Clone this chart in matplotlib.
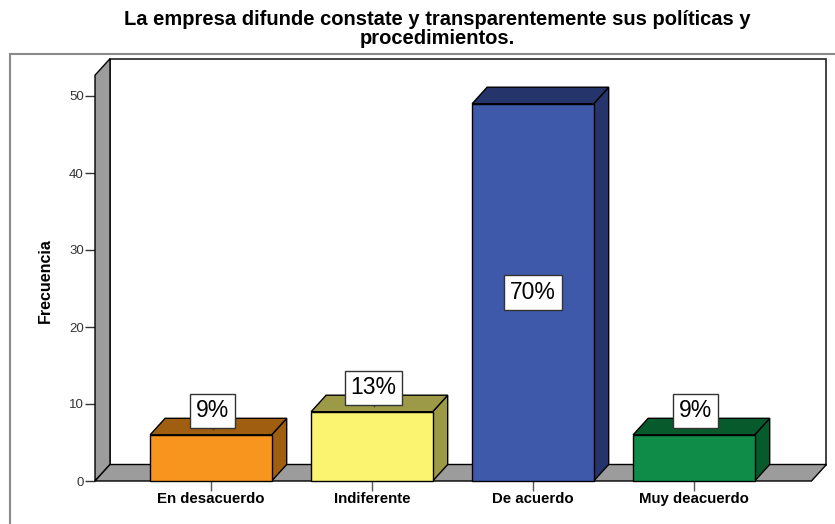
import matplotlib
matplotlib.use("Agg")
import matplotlib.pyplot as plt
from matplotlib.patches import Polygon, Rectangle

plt.rcParams['font.family'] = ['Liberation Sans', 'DejaVu Sans']

categorias = ['En desacuerdo', 'Indiferente', 'De acuerdo', 'Muy deacuerdo']
frecuencias = [6, 9, 49, 6]
colores_frente = ['#F7951F', '#FAF471', '#3E59A9', '#0F8C47']
colores_sombra = ['#A05F10', '#9C9A47', '#26346C', '#075A2B']
titulo = 'La empresa difunde constate y transparentemente sus políticas y\nprocedimientos.'

total = sum(frecuencias)
porcentajes = [round(v * 100 / total) for v in frecuencias]

W, H = 835, 524
fig = plt.figure(figsize=(W / 100, H / 100), dpi=100)

# zona del grafico en pixeles: eje frontal y plano de fondo
px_left, px_right, px_bottom, px_top = 95, 827, 481, 58
ax = fig.add_axes([px_left / W, 1 - px_bottom / H,
                   (px_right - px_left) / W, (px_bottom - px_top) / H])

px_cat = 161.0      # pixeles por categoria
px_unit = 7.7       # pixeles por unidad de frecuencia
x0 = -0.72
x1 = 3.73
dx = 15 / px_cat
dy = 16.5 / px_unit
ancho = 0.755
ytop = 52.7

ax.set_xlim(x0, x0 + (px_right - px_left) / px_cat)
ax.set_ylim(0, (px_bottom - px_top) / px_unit)

# plano de fondo, pared izquierda y piso
ax.add_patch(Polygon([(x0 + dx, dy), (x0 + dx, ytop + dy), (x1 + dx, ytop + dy), (x1 + dx, dy)],
                     closed=True, facecolor='white', edgecolor='#222222', lw=1.2, zorder=1,
                     clip_on=False))
ax.add_patch(Polygon([(x0, 0), (x0, ytop), (x0 + dx, ytop + dy), (x0 + dx, dy)],
                     closed=True, facecolor='#9C9C9C', edgecolor='black', lw=1.0, zorder=2,
                     clip_on=False))
ax.add_patch(Polygon([(x0, 0), (x0 + dx, dy), (x1 + dx, dy), (x1, 0)],
                     closed=True, facecolor='#9C9C9C', edgecolor='black', lw=1.0, zorder=2,
                     clip_on=False))

for i, v in enumerate(frecuencias):
    l, r = i - ancho / 2, i + ancho / 2
    lado = [(r, 0), (r + dx, dy), (r + dx, v + dy), (r, v)]
    tapa = [(l, v), (l + dx, v + dy), (r + dx, v + dy), (r, v)]
    ax.add_patch(Polygon(lado, closed=True, facecolor=colores_sombra[i],
                         edgecolor='black', lw=1.0, zorder=3, clip_on=False))
    ax.add_patch(Polygon(tapa, closed=True, facecolor=colores_sombra[i],
                         edgecolor='black', lw=1.0, zorder=3, clip_on=False))
    ax.add_patch(Rectangle((l, 0), ancho, v, facecolor=colores_frente[i],
                           edgecolor='black', lw=1.0, zorder=4, clip_on=False))

    etiqueta = f'{porcentajes[i]}%'
    caja = dict(boxstyle='square,pad=0.25', fc='white', ec='#333333', lw=1.0)
    if v > 20:
        ax.text(i, v / 2, etiqueta, ha='center', va='center', fontsize=16.5, zorder=6, bbox=caja)
    else:
        ax.plot([i + 0.01, i + 0.01], [v + dy / 2 - 0.3, v + 1], color='#333333', lw=1, zorder=5)
        ax.text(i + 0.01, v + 3.1, etiqueta, ha='center', va='center', fontsize=16.5, zorder=6,
                bbox=caja)

for s in ax.spines.values():
    s.set_visible(False)
ax.set_facecolor('none')

ax.set_yticks(range(0, 51, 10))
ax.set_xticks(range(len(categorias)))
ax.set_xticklabels(categorias, fontsize=10.8, fontweight='bold')
ax.tick_params(axis='y', direction='out', length=7, width=1, color='#333333',
               labelsize=9.5, labelcolor='#333333', pad=1)
ax.tick_params(axis='x', direction='out', length=7, width=1, color='#555555', pad=1)

ax.set_ylabel('Frecuencia', fontsize=11.5, fontweight='bold')
ax.yaxis.set_label_coords(-(px_left - 53) / (px_right - px_left), 0.475)

# marco exterior
fig.add_artist(Rectangle((10 / W, -0.1), 1.0, 1 - 54 / H + 0.1, transform=fig.transFigure,
                         facecolor='none', edgecolor='#8A8A8A', lw=1.5))

fig.text(437 / W, 1 - 29 / H, titulo, ha='center', va='center', fontsize=14.5,
         fontweight='bold', linespacing=0.95)

fig.savefig('out.png', dpi=100)
